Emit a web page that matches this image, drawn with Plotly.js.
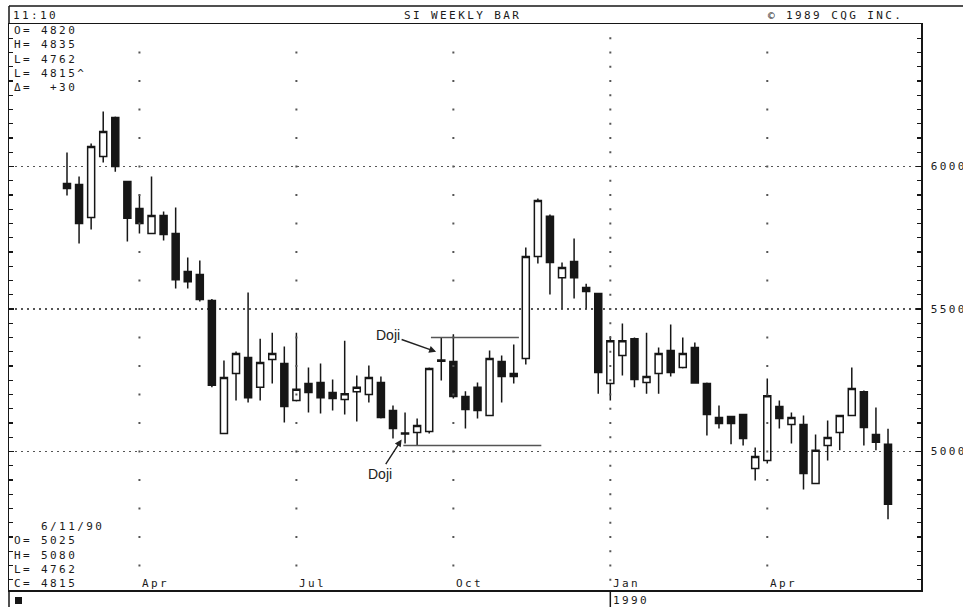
<!DOCTYPE html>
<html><head><meta charset="utf-8">
<script src="https://cdn.plot.ly/plotly-3.0.1.min.js"></script>
<style>
html,body{margin:0;padding:0;background:#fff;}
#chart{width:963px;height:607px;}
text[style*="Sans Mono"]{letter-spacing:2.4px;}
</style></head><body><div id="chart"></div>
<script>
// Weekly bars, SI (silver) Feb 1989 - Jun 1990
const weeks = ['1989-02-20','1989-02-27','1989-03-06','1989-03-13','1989-03-20','1989-03-27',
'1989-04-03','1989-04-10','1989-04-17','1989-04-24','1989-05-01','1989-05-08','1989-05-15',
'1989-05-22','1989-05-29','1989-06-05','1989-06-12','1989-06-19','1989-06-26','1989-07-03',
'1989-07-10','1989-07-17','1989-07-24','1989-07-31','1989-08-07','1989-08-14','1989-08-21',
'1989-08-28','1989-09-04','1989-09-11','1989-09-18','1989-09-25','1989-10-02','1989-10-09',
'1989-10-16','1989-10-23','1989-10-30','1989-11-06','1989-11-13','1989-11-20','1989-11-27',
'1989-12-04','1989-12-11','1989-12-18','1989-12-25','1990-01-01','1990-01-08','1990-01-15',
'1990-01-22','1990-01-29','1990-02-05','1990-02-12','1990-02-19','1990-02-26','1990-03-05',
'1990-03-12','1990-03-19','1990-03-26','1990-04-02','1990-04-09','1990-04-16','1990-04-23',
'1990-04-30','1990-05-07','1990-05-14','1990-05-21','1990-05-28','1990-06-04','1990-06-11'];
const openV  = [5940,5937,5821,6035,6172,5947,5853,5765,5828,5765,5632,5621,5530,5063,5274,5330,5225,5323,5309,5179,
5239,5242,5207,5182,5210,5200,5242,5144,5061,5067,5070,5317,5316,5193,5225,5126,5316,5274,5326,5684,
5825,5610,5667,5575,5554,5239,5337,5396,5242,5274,5354,5295,5365,5239,5119,5123,5130,4940,4968,5158,
5095,5095,4888,5021,5067,5126,5210,5060,5025];
const highV  = [6049,5965,6081,6193,6175,5950,5902,5965,5842,5856,5681,5670,5535,5319,5351,5558,5396,5417,5368,5417,
5295,5309,5253,5389,5267,5302,5263,5161,5137,5116,5295,5400,5411,5211,5242,5354,5337,5375,5716,5888,
5832,5663,5747,5589,5556,5404,5449,5400,5417,5365,5446,5400,5382,5242,5161,5125,5132,5014,5256,5179,
5137,5126,5060,5109,5126,5295,5214,5154,5080];
const lowV   = [5898,5730,5779,6014,5982,5737,5765,5765,5740,5572,5572,5526,5225,5063,5179,5172,5179,5239,5102,5175,
5137,5133,5144,5130,5105,5172,5116,5046,5028,5021,5063,5249,5186,5081,5116,5126,5172,5239,5305,5660,
5551,5502,5537,5502,5203,5179,5267,5225,5203,5203,5263,5291,5238,5056,5081,5025,5021,4898,4958,5081,
5028,4867,4888,4968,5004,5126,5021,5004,4762];
const closeV = [5923,5800,6070,6123,6000,5818,5800,5828,5761,5603,5596,5533,5232,5260,5344,5189,5312,5344,5158,5218,
5207,5189,5186,5203,5225,5260,5119,5081,5065,5091,5291,5321,5193,5147,5144,5326,5263,5263,5684,5881,
5663,5646,5610,5561,5277,5389,5389,5253,5263,5344,5277,5344,5240,5130,5098,5098,5046,4982,5196,5116,
5119,4923,5004,5049,5126,5221,5084,5032,4815];

const quarterTicks  = ['1989-04-03','1989-07-03','1989-10-02','1990-01-01','1990-04-02'];
const quarterLabels = ['Apr','Jul','Oct','Jan','Apr'];
const yearBreak = '1990-01-01';
const yearLabel = '1990';
const priceTicks  = [5000,5500,6000];
const priceLabels = ['5000','5500','6000'];
const topInfo    = ['O= 4820','H= 4835','L= 4762','L= 4815^','\u0394=\u00A0\u00A0+30'];
const lastDate   = '6/11/90';
const bottomInfo = ['O= 5025','H= 5080','L= 4762','C= 4815'];
const headerLeft = '11:10', headerMid = 'SI WEEKLY BAR', headerRight = '\u00A9 1989 CQG INC.';

const INK = '#161616';
const MONO = {family:'DejaVu Sans Mono, Liberation Mono, monospace', size:11, color:'#1a1a1a'};

// grid dots along the quarter lines
const gx = [], gy = [];
quarterTicks.forEach(d => {
  const step = (d === yearBreak) ? 50 : 100;
  for (let p = (step === 50 ? 4550 : 4600); p < 6500; p += step) { gx.push(d); gy.push(p); }
});

const traces = [
  {type:'scatter', mode:'markers', x:gx, y:gy, hoverinfo:'skip', showlegend:false,
   marker:{symbol:'square', size:2, color:'#555'}},
  {type:'candlestick', x:weeks, open:openV, high:highV, low:lowV, close:closeV,
   showlegend:false, whiskerwidth:0,
   increasing:{fillcolor:'#ffffff', line:{color:INK, width:1.5}},
   decreasing:{fillcolor:INK, line:{color:INK, width:1.5}}}
];

const pyT = py => (590 - py) / 566;   // pixel row -> paper y
const pxT = px => (px - 9) / 912;     // pixel col -> paper x

const ann = [];
function txt(text, x, y, opts) {
  ann.push(Object.assign({text, x, y, xref:'paper', yref:'paper', xanchor:'left', yanchor:'middle',
    align:'left', showarrow:false, font:MONO, borderpad:0}, opts || {}));
}
txt(headerLeft, pxT(12), pyT(15));
txt(headerMid, pxT(403), pyT(15));
txt(headerRight, pxT(767), pyT(15));
txt(topInfo.join('<br>'), pxT(13), pyT(59));
txt(['\u00A0\u00A0\u00A0' + lastDate].concat(bottomInfo).join('<br>'), pxT(13), pyT(555));
quarterTicks.forEach((d,i) => txt(quarterLabels[i], d, pyT(583), {xref:'x', xshift:2}));
txt(yearLabel, yearBreak, pyT(600), {xref:'x', xshift:2});

const DOJI = {family:'Liberation Sans, Arial, sans-serif', size:14, color:'#222'};
ann.push({x:'1989-09-22', y:5350, xref:'x', yref:'y', text:'Doji', showarrow:true, arrowhead:2,
  arrowsize:1, arrowwidth:1.4, arrowcolor:'#222', ax:-48, ay:-17, font:DOJI});
ann.push({x:'1989-09-02', y:5042, xref:'x', yref:'y', text:'Doji', showarrow:true, arrowhead:2,
  arrowsize:1, arrowwidth:1.4, arrowcolor:'#222', ax:-22, ay:34, font:DOJI});

const shapes = [
  {type:'line', xref:'paper', yref:'paper', x0:0, x1:1.05, y0:pyT(6), y1:pyT(6), line:{color:INK, width:1.5}},
  {type:'line', xref:'paper', yref:'paper', x0:0, x1:0, y0:1, y1:pyT(6), line:{color:INK, width:1.5}},
  {type:'line', xref:'paper', yref:'paper', x0:0, x1:0, y0:0, y1:pyT(608), line:{color:INK, width:1.5}},
  {type:'line', xref:'x', yref:'paper', x0:yearBreak, x1:yearBreak, y0:pyT(592), y1:pyT(608), line:{color:INK, width:1.5}},
  {type:'rect', xref:'paper', yref:'paper', x0:pxT(15), x1:pxT(22), y0:pyT(597), y1:pyT(604), fillcolor:INK, line:{width:0}},
  {type:'line', xref:'x', yref:'y', x0:'1989-09-19', x1:'1989-11-09', y0:5400, y1:5400, line:{color:'#555', width:1.5}},
  {type:'line', xref:'x', yref:'y', x0:'1989-09-03', x1:'1989-11-22', y0:5021, y1:5021, line:{color:'#555', width:1.5}}
];

const layout = {
  width:963, height:607, margin:{l:9, r:42, t:24, b:17},
  paper_bgcolor:'#fff', plot_bgcolor:'#fff', showlegend:false, boxgap:0.17,
  font:MONO,
  xaxis:{type:'date', range:['1989-01-17 09:00','1990-06-30 03:00'], rangeslider:{visible:false},
    tickmode:'array', tickvals:quarterTicks, showticklabels:false, ticks:'', showgrid:false, zeroline:false,
    showline:true, mirror:true, linecolor:INK, linewidth:1.5, fixedrange:true},
  yaxis:{side:'right', range:[4514,6500], tickmode:'array', tickvals:priceTicks, ticktext:priceLabels,
    ticks:'inside', ticklen:5, tickwidth:1.2, tickcolor:INK, mirror:'ticks', showline:true, linecolor:INK, linewidth:1.5,
    showgrid:true, gridcolor:'#555', gridwidth:1.2, griddash:'2px,4px', zeroline:false, ticklabelstandoff:6,
    tickfont:MONO, fixedrange:true,
    minor:{tickmode:'linear', tick0:0, dtick:50, ticks:'inside', ticklen:4, tickwidth:1.2, tickcolor:INK, showgrid:false}},
  annotations:ann, shapes:shapes
};

Plotly.newPlot('chart', traces, layout, {displayModeBar:false, staticPlot:true});
</script></body></html>
